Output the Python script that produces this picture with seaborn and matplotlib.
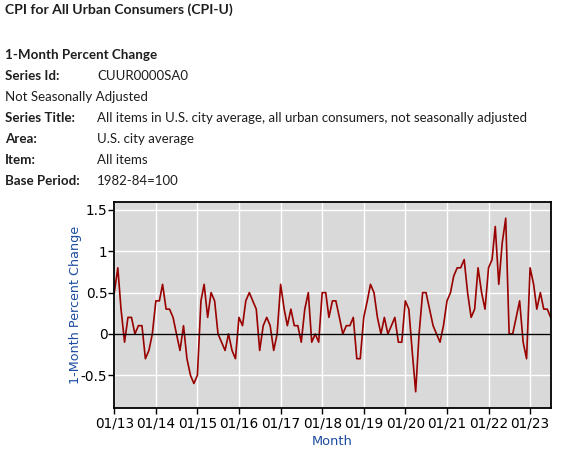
import pandas as pd
import numpy as np
import matplotlib
matplotlib.use("Agg")
import matplotlib.pyplot as plt
import matplotlib.dates as mdates
import seaborn as sns

# --- data: CPI-U 1-month percent change, NSA, Jan 2013 - Jul 2023 ---
pct_2013 = [0.5, 0.8, 0.3, -0.1, 0.2, 0.2, 0.0, 0.1, 0.1, -0.3, -0.2, 0.0]
pct_2014 = [0.4, 0.4, 0.6, 0.3, 0.3, 0.2, 0.0, -0.2, 0.1, -0.3, -0.5, -0.6]
pct_2015 = [-0.5, 0.4, 0.6, 0.2, 0.5, 0.4, 0.0, -0.1, -0.2, 0.0, -0.2, -0.3]
pct_2016 = [0.2, 0.1, 0.4, 0.5, 0.4, 0.3, -0.2, 0.1, 0.2, 0.1, -0.2, 0.0]
pct_2017 = [0.6, 0.3, 0.1, 0.3, 0.1, 0.1, -0.1, 0.3, 0.5, -0.1, 0.0, -0.1]
pct_2018 = [0.5, 0.5, 0.2, 0.4, 0.4, 0.2, 0.0, 0.1, 0.1, 0.2, -0.3, -0.3]
pct_2019 = [0.2, 0.4, 0.6, 0.5, 0.2, 0.0, 0.2, 0.0, 0.1, 0.2, -0.1, -0.1]
pct_2020 = [0.4, 0.3, -0.2, -0.7, 0.0, 0.5, 0.5, 0.3, 0.1, 0.0, -0.1, 0.1]
pct_2021 = [0.4, 0.5, 0.7, 0.8, 0.8, 0.9, 0.5, 0.2, 0.3, 0.8, 0.5, 0.3]
pct_2022 = [0.8, 0.9, 1.3, 0.6, 1.1, 1.4, 0.0, 0.0, 0.2, 0.4, -0.1, -0.3]
pct_2023 = [0.8, 0.6, 0.3, 0.5, 0.3, 0.3, 0.2]

values = (pct_2013 + pct_2014 + pct_2015 + pct_2016 + pct_2017 + pct_2018
          + pct_2019 + pct_2020 + pct_2021 + pct_2022 + pct_2023)
months = pd.date_range("2013-01-01", periods=len(values), freq="MS")
df = pd.DataFrame({"Month": months, "Change": values})

y_ticks = [-0.5, 0, 0.5, 1, 1.5]
y_tick_labels = ["-0.5", "0", "0.5", "1", "1.5"]

header_rows = [
    ("1-Month Percent Change", None, True),
    ("Series Id:", "CUUR0000SA0", True),
    ("Not Seasonally Adjusted", None, False),
    ("Series Title:", "All items in U.S. city average, all urban consumers, not seasonally adjusted", True),
    ("Area:", "U.S. city average", True),
    ("Item:", "All items", True),
    ("Base Period:", "1982-84=100", True),
]

# --- figure ---
W, H = 562, 454
fig = plt.figure(figsize=(W / 100, H / 100), dpi=100)
fig.patch.set_facecolor("white")

txt_color = "#1e1e1e"
hfont = "Lato"
fig.text(5 / W, 1 - 14 / H, "CPI for All Urban Consumers (CPI-U)", fontsize=10.1,
         fontweight="bold", family=hfont, color=txt_color, va="baseline", ha="left")
base_y = 59
for i, (label, val, bold) in enumerate(header_rows):
    yb = 1 - (base_y + 21 * i) / H
    fig.text(5 / W, yb, label, fontsize=9.6 if bold else 9.5,
             fontweight="bold" if bold else "normal",
             family=hfont, color=txt_color, va="baseline", ha="left")
    if val is not None:
        fig.text(97 / W, yb, val, fontsize=9.5, family=hfont, color=txt_color,
                 va="baseline", ha="left")

# axes area in pixel coords
left, right, top, bottom = 114.3, 550.7, 201.7, 408.3
ax = fig.add_axes([left / W, (H - bottom) / H, (right - left) / W, (bottom - top) / H])
ax.set_facecolor("#d9d9d9")

sns.lineplot(data=df, x="Month", y="Change", ax=ax, color="#990000", linewidth=1.2)
ax.axhline(0, color="black", linewidth=1.0, zorder=3)

ax.set_xlim(months[0], months[-1])
ax.set_ylim(-0.9, 1.6)
ax.set_yticks(y_ticks)
ax.set_yticklabels(y_tick_labels)
ax.xaxis.set_major_locator(mdates.YearLocator(month=1, day=1))
ax.xaxis.set_major_formatter(mdates.DateFormatter("%m/%y"))

ax.grid(True, color="white", linewidth=1.0)
ax.set_axisbelow(True)
for s in ax.spines.values():
    s.set_color("black")
    s.set_linewidth(1.3)
ax.tick_params(axis="both", direction="out", length=4.3, width=1.0, colors="black",
               labelsize=9.8)
ax.tick_params(axis="x", pad=1.6)
ax.tick_params(axis="y", pad=0.6)

label_color = "#1c4ba0"
ax.set_xlabel("Month", color=label_color, fontsize=9.4)
ax.set_ylabel("1-Month Percent Change", color=label_color, fontsize=9.2)
ax.xaxis.set_label_coords(0.5, -(441.7 - bottom) / (bottom - top))
ax.xaxis.label.set_va("center")
ax.yaxis.set_label_coords((75 - left) / (right - left), 0.5)
ax.yaxis.label.set_va("center")
ax.yaxis.label.set_ha("center")

fig.savefig("out.png", dpi=100)
